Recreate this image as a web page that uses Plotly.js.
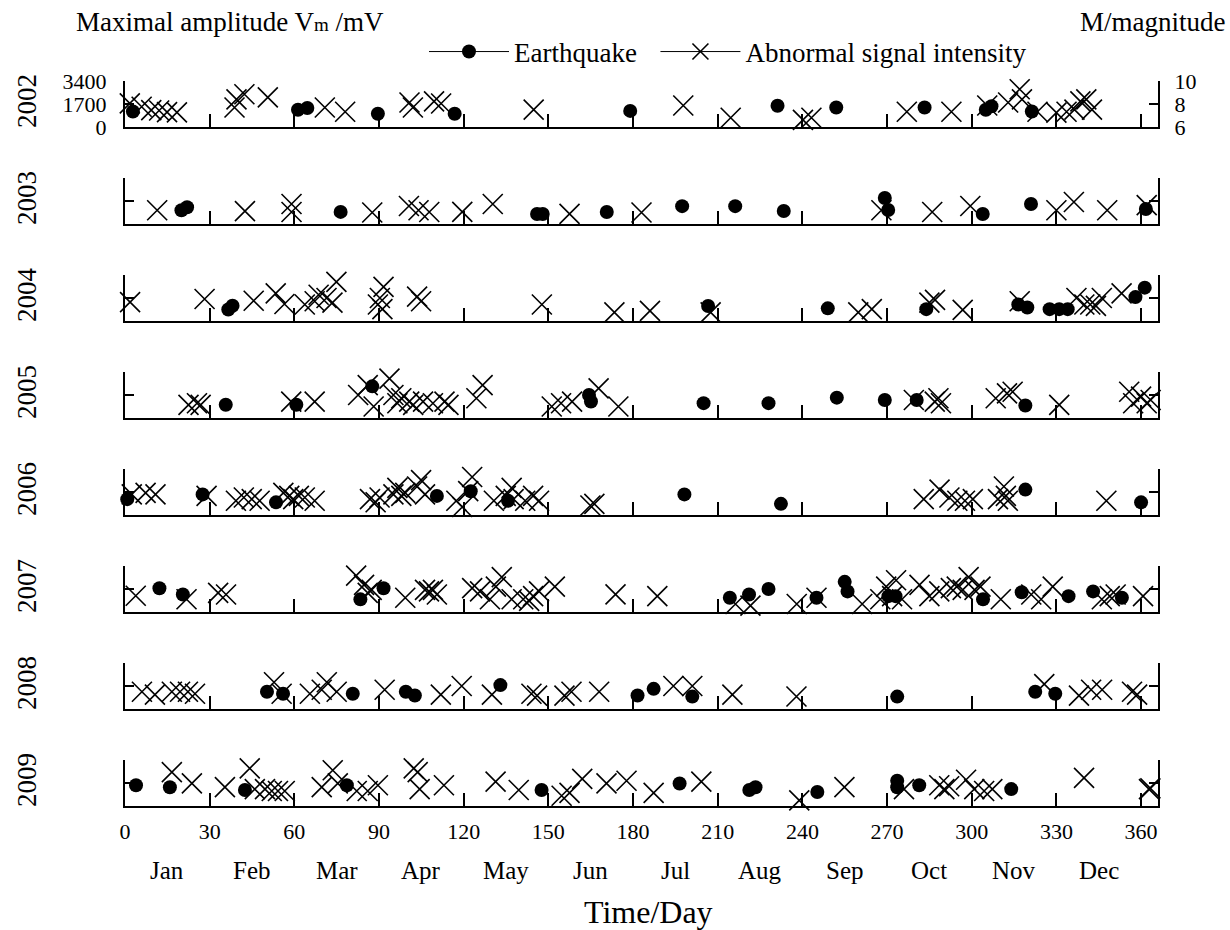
<!DOCTYPE html>
<html>
<head>
<meta charset="utf-8">
<script src="https://cdn.plot.ly/plotly-3.0.1.min.js"></script>
<style>html,body{margin:0;padding:0;background:#fff;}#chart{width:1230px;height:930px;}</style>
</head>
<body>
<div id="chart"></div>
<script>
// ---------------- DATA ----------------
const years = [2002, 2003, 2004, 2005, 2006, 2007, 2008, 2009];
const dayTicks = [0, 30, 60, 90, 120, 150, 180, 210, 240, 270, 300, 330, 360];
const monthNames = ['Jan','Feb','Mar','Apr','May','Jun','Jul','Aug','Sep','Oct','Nov','Dec'];
const monthCenters = [15, 45, 75, 105, 135, 165, 195, 225, 255, 285, 315, 345];
const ampTicks = [0, 1700, 3400];
const magTicks = [6, 8, 10];

// Earthquakes: day of year and magnitude (right axis)
const quakeDay2002 = [2.8, 61.3, 64.6, 89.6, 116.8, 179, 231.2, 252, 283.3, 305, 307, 321.3];
const quakeMag2002 = [7.35, 7.5, 7.65, 7.15, 7.15, 7.4, 7.85, 7.7, 7.7, 7.5, 7.8, 7.35];
const quakeDay2003 = [20, 22, 76.4, 146, 148, 170.7, 197.4, 216.2, 233.4, 269.2, 270.4, 303.9, 321, 361.7];
const quakeMag2003 = [7.2, 7.45, 7.05, 6.87, 6.87, 7.04, 7.55, 7.55, 7.13, 8.26, 7.22, 6.87, 7.74, 7.3];
const quakeDay2004 = [36.6, 38.1, 206.6, 249, 283.9, 316.5, 319.7, 327.6, 331, 334, 358, 361.3];
const quakeMag2004 = [7.0, 7.33, 7.3, 7.1, 7.03, 7.44, 7.17, 7.03, 7.03, 7.03, 8.08, 8.9];
const quakeDay2005 = [35.7, 60.7, 87.6, 164.4, 165.1, 205, 228, 252.2, 269.2, 280.5, 319];
const quakeMag2005 = [7.15, 7.15, 8.75, 8.0, 7.43, 7.29, 7.29, 7.77, 7.57, 7.57, 7.09];
const quakeDay2006 = [0.8, 27.5, 53.5, 110.5, 122.5, 135.7, 198.2, 232.4, 319, 360];
const quakeMag2006 = [7.38, 7.79, 7.1, 7.66, 8.07, 7.24, 7.79, 6.97, 8.21, 7.1];
const quakeDay2007 = [12.2, 20.5, 83.4, 91.6, 214.3, 221.1, 228, 245, 255, 256, 270.5, 273, 304, 317.7, 334.3, 343, 353.2];
const quakeMag2007 = [8.07, 7.52, 7.1, 8.07, 7.24, 7.52, 8.0, 7.24, 8.62, 7.79, 7.38, 7.38, 7.1, 7.72, 7.38, 7.79, 7.24];
const quakeDay2008 = [50.3, 56, 80.7, 99.5, 102.7, 133, 181.6, 187.3, 201, 273.6, 322.5, 329.6];
const quakeMag2008 = [7.5, 7.33, 7.33, 7.5, 7.17, 8.08, 7.17, 7.75, 7.08, 7.08, 7.5, 7.33];
const quakeDay2009 = [3.9, 15.9, 42.5, 78.6, 147.6, 196.5, 221.2, 223.4, 245.3, 273.6, 273.6, 281.4, 314];
const quakeMag2009 = [7.8, 7.63, 7.39, 7.8, 7.39, 7.96, 7.39, 7.63, 7.22, 8.2, 7.63, 7.8, 7.47];

// Abnormal signals: day of year and maximal amplitude Vm in mV (left axis)
const signalDay2002 = [1.7, 5.9, 9.3, 12.1, 14.9, 18.4, 38.8, 39.5, 42.3, 50.6, 70.8, 78, 100.8, 102, 109.5, 112, 144.8, 197.8, 214.6, 240.2, 243.2, 277, 292.8, 305.5, 312.9, 317, 317.8, 323.3, 330, 333.6, 336.4, 338.5, 340.6, 342.6];
const signalAmp2002 = [1750, 1500, 1250, 1220, 1100, 1080, 1440, 2040, 2420, 2190, 1440, 1130, 1810, 1440, 1890, 1740, 1280, 1590, 680, 530, 680, 1130, 1130, 1590, 1810, 2790, 2040, 1130, 1060, 1130, 1280, 1890, 2040, 1280];
const signalDay2003 = [11.4, 42.5, 59, 59, 87.6, 100.6, 104, 107.8, 119.5, 130.3, 157.5, 183, 268, 286, 299.5, 330, 336.2, 348, 362];
const signalAmp2003 = [1020, 950, 1480, 890, 850, 1330, 1020, 890, 900, 1480, 750, 850, 1020, 890, 1330, 1020, 1630, 1020, 1400];
const signalDay2004 = [1.8, 28.2, 45.6, 53.4, 56.5, 63.7, 67.2, 68.6, 71.4, 73.5, 74.9, 89.6, 90.3, 91.6, 91.2, 103.5, 104.9, 147.7, 173.4, 186, 207.5, 259.8, 264.6, 285, 287, 296.8, 317, 337.1, 339.9, 342, 344, 346.1, 353.1];
const signalAmp2004 = [1400, 1630, 1500, 2040, 1260, 1220, 1460, 1940, 1700, 1360, 2890, 1220, 1700, 2520, 880, 1800, 1460, 1220, 640, 750, 640, 640, 880, 1360, 1560, 820, 1460, 1700, 1220, 1220, 1120, 1700, 2040];
const signalDay2005 = [22.5, 25.5, 26.8, 58.9, 67.2, 82.6, 86, 88.1, 93.7, 95.1, 96.5, 97.9, 100.7, 102.1, 105.6, 109.1, 113.2, 114.6, 124.5, 126.7, 151.2, 154.5, 158.4, 167.8, 174.8, 279.5, 286.9, 288.2, 289.1, 308.5, 312.5, 314.5, 331, 355.8, 357.2, 360, 362, 363.4];
const signalAmp2005 = [970, 1090, 970, 1210, 1210, 1700, 2430, 850, 2910, 1700, 1090, 1460, 1210, 970, 1210, 1090, 1210, 970, 1460, 2430, 850, 1090, 1210, 2190, 850, 1330, 1210, 1460, 1090, 1460, 1820, 1940, 970, 1940, 1090, 1580, 1090, 1330];
const signalDay2006 = [2.4, 7.3, 10.8, 28.9, 39.3, 42.1, 44.9, 47.7, 56.1, 58.2, 59.6, 61.6, 63.7, 67.2, 86.8, 88.8, 90.2, 95.1, 96.5, 97.9, 99.3, 103.5, 104.9, 106.3, 117.4, 119.5, 121.6, 123, 130.7, 134.9, 137, 137.7, 141.8, 144.6, 146.7, 164.9, 166.3, 283, 288.6, 292.1, 294.9, 297.6, 300.4, 309.3, 311.4, 312.1, 312.8, 347.7];
const signalAmp2006 = [1520, 1640, 1520, 1410, 1050, 1290, 1170, 1050, 1640, 1410, 1170, 1410, 1290, 1050, 1170, 940, 1290, 1520, 2000, 1410, 1640, 2110, 2580, 1520, 1050, 590, 1760, 2810, 1050, 1410, 2000, 1170, 1050, 1410, 1050, 700, 820, 1170, 1880, 1290, 1050, 1050, 1170, 1170, 2110, 1410, 1050, 1050];
const signalDay2007 = [3.8, 21.8, 33, 35.8, 81.9, 84.7, 86, 87.4, 99.3, 106.3, 107.7, 109.1, 110.5, 123, 125.8, 129.3, 131.4, 133.5, 137, 141.1, 143.2, 144.6, 146.7, 152.3, 173.8, 188.6, 216.3, 221.6, 238, 245, 261.2, 267.6, 269.7, 271.8, 273.2, 275.3, 281.5, 285, 288.5, 292.6, 294.7, 296.8, 298.9, 301, 303.1, 310.3, 321.1, 324.6, 328.7, 346.1, 348.9, 351, 360.7];
const signalAmp2007 = [1200, 940, 1410, 1290, 2690, 2000, 1410, 1640, 1050, 1640, 1520, 1640, 1290, 1760, 1520, 940, 1880, 2580, 940, 940, 820, 1170, 1520, 1880, 1300, 1170, 590, 470, 590, 1050, 590, 940, 1880, 1170, 2350, 940, 2000, 1170, 1520, 1760, 1880, 1640, 2580, 1640, 1880, 940, 1290, 940, 1880, 940, 1170, 1290, 1170];
const signalDay2008 = [6, 10.6, 16.6, 19.5, 22.3, 24.8, 52.8, 55.5, 65.5, 69.7, 71.5, 75, 92, 111.9, 119.3, 130, 144, 146, 155.7, 158.2, 168, 194.3, 201, 215.2, 237.9, 325.7, 338, 342.3, 346.2, 356.8, 358.6];
const signalAmp2008 = [1275, 1060, 1275, 1275, 1275, 1130, 1980, 1130, 1130, 1420, 1980, 1275, 1420, 1060, 1700, 1060, 1130, 990, 990, 1275, 1275, 1700, 1700, 1060, 920, 1840, 990, 1420, 1420, 1275, 1060];
const signalDay2009 = [16.6, 23.7, 35.4, 44.2, 46, 49.6, 52, 54.2, 56.6, 69.7, 73.6, 75.4, 82.1, 86, 89.6, 102.3, 103.7, 104.4, 113, 131.3, 139.5, 154.7, 157.5, 162, 170.6, 177.7, 187.3, 204.2, 238.9, 254.9, 276, 288.5, 290.3, 292, 298, 300.9, 304.4, 307.3, 339.8, 362.8, 363.3];
const signalAmp2009 = [2500, 1670, 1390, 2780, 1250, 1250, 1110, 1110, 1110, 1390, 2640, 1670, 1110, 1110, 1530, 2780, 2500, 1250, 1530, 1800, 1180, 760, 970, 2010, 1670, 1870, 970, 1800, 420, 1390, 1250, 1530, 1250, 1460, 1940, 1250, 1110, 1250, 2080, 1250, 1300];

const quakeDays = [quakeDay2002, quakeDay2003, quakeDay2004, quakeDay2005, quakeDay2006, quakeDay2007, quakeDay2008, quakeDay2009];
const quakeMags = [quakeMag2002, quakeMag2003, quakeMag2004, quakeMag2005, quakeMag2006, quakeMag2007, quakeMag2008, quakeMag2009];
const signalDays = [signalDay2002, signalDay2003, signalDay2004, signalDay2005, signalDay2006, signalDay2007, signalDay2008, signalDay2009];
const signalAmps = [signalAmp2002, signalAmp2003, signalAmp2004, signalAmp2005, signalAmp2006, signalAmp2007, signalAmp2008, signalAmp2009];

// ---------------- LAYOUT / STYLE ----------------
const FONT = 'Liberation Serif, "Times New Roman", serif';
const W = 1230, H = 930, ML = 125, MR = 72;
const PW = W - ML - MR;
const PANEL_BASE0 = 127, PANEL_STEP = 97, PANEL_H = 46;

const dotMarker = {symbol: 'circle', size: 14, color: 'black', line: {width: 0}};
const crossMarker = {symbol: 'x-thin-open', size: 20, color: 'black', line: {width: 1.6, color: 'black'}};

const traces = [];
const layout = {
  width: W, height: H,
  margin: {l: ML, r: MR, t: 0, b: 0, pad: 0},
  paper_bgcolor: 'white', plot_bgcolor: 'white',
  font: {family: FONT, color: 'black', size: 22},
  showlegend: true,
  legend: {orientation: 'h', x: (424 - ML) / PW, xanchor: 'left', y: 1 - 52 / H, yanchor: 'middle',
           font: {family: FONT, size: 27, color: 'black'}, bgcolor: 'rgba(0,0,0,0)',
           itemwidth: 80, traceorder: 'normal'},
  annotations: [],
  hovermode: false
};

years.forEach((yr, i) => {
  const xId = i === 0 ? 'x' : 'x' + (i + 1);
  const yL = i === 0 ? 'y' : 'y' + (i + 1);
  const yR = 'y' + (i + 9);
  const xKey = i === 0 ? 'xaxis' : 'xaxis' + (i + 1);
  const yLKey = i === 0 ? 'yaxis' : 'yaxis' + (i + 1);
  const yRKey = 'yaxis' + (i + 9);
  const base = PANEL_BASE0 + PANEL_STEP * i;
  const top = base - PANEL_H;

  layout[xKey] = {
    domain: [0, 1], range: [0, 366], anchor: yL,
    showline: true, linewidth: 2, linecolor: 'black',
    ticks: 'inside', tickvals: dayTicks, ticklen: 13, tickwidth: 2, tickcolor: 'black',
    showticklabels: i === years.length - 1, ticklabelstandoff: 5,
    tickfont: {family: FONT, size: 22, color: 'black'},
    showgrid: false, zeroline: false, fixedrange: true
  };
  layout[yLKey] = {
    domain: [1 - base / H, 1 - top / H], range: [0, 3400], anchor: xId, side: 'left',
    showline: true, linewidth: 2, linecolor: 'black',
    ticks: 'inside', tickvals: ampTicks, ticklen: 9, tickwidth: 2, tickcolor: 'black',
    showticklabels: i === 0, ticklabelstandoff: 12,
    tickfont: {family: FONT, size: 22, color: 'black'},
    showgrid: false, zeroline: false, fixedrange: true
  };
  layout[yRKey] = {
    overlaying: yL, range: [6, 10], anchor: xId, side: 'right',
    showline: true, linewidth: 2, linecolor: 'black',
    ticks: 'inside', tickvals: magTicks, ticklen: 9, tickwidth: 2, tickcolor: 'black',
    showticklabels: i === 0, ticklabelstandoff: 10,
    tickfont: {family: FONT, size: 22, color: 'black'},
    showgrid: false, zeroline: false, fixedrange: true
  };

  traces.push({
    type: 'scatter', mode: 'markers', x: signalDays[i], y: signalAmps[i],
    xaxis: xId, yaxis: yL, marker: crossMarker, cliponaxis: false, showlegend: false,
    name: 'Abnormal signal intensity ' + yr
  });
  traces.push({
    type: 'scatter', mode: 'markers', x: quakeDays[i], y: quakeMags[i],
    xaxis: xId, yaxis: yR, marker: dotMarker, cliponaxis: false, showlegend: false,
    name: 'Earthquake ' + yr
  });

  layout.annotations.push({
    text: String(yr), xref: 'paper', yref: 'paper',
    x: (27 - ML) / PW, y: 1 - (base - PANEL_H / 2 - 3) / H,
    xanchor: 'center', yanchor: 'middle', textangle: -90, showarrow: false,
    font: {family: FONT, size: 27, color: 'black'}
  });
});

// legend-only entries
traces.push({type: 'scatter', mode: 'lines+markers', x: [null], y: [null], name: 'Earthquake\u00a0\u00a0',
  marker: dotMarker, line: {color: 'black', width: 1}, showlegend: true, xaxis: 'x', yaxis: 'y9'});
traces.push({type: 'scatter', mode: 'lines+markers', x: [null], y: [null], name: 'Abnormal signal intensity',
  marker: crossMarker, line: {color: 'black', width: 1}, showlegend: true, xaxis: 'x', yaxis: 'y'});

// month labels under the bottom axis
monthNames.forEach((m, k) => {
  layout.annotations.push({
    text: m, xref: 'x8', yref: 'paper', x: monthCenters[k], y: 1 - 870 / H,
    xanchor: 'center', yanchor: 'middle', showarrow: false,
    font: {family: FONT, size: 25, color: 'black'}
  });
});

// axis titles
layout.annotations.push({
  text: 'Time/Day', xref: 'paper', yref: 'paper', x: (648 - ML) / PW, y: 1 - 912 / H,
  xanchor: 'center', yanchor: 'middle', showarrow: false,
  font: {family: FONT, size: 32, color: 'black'}
});
layout.annotations.push({
  text: 'Maximal amplitude V<span style="font-size:19px">m</span> /mV', xref: 'paper', yref: 'paper',
  x: (74 - ML) / PW, y: 1 - 22 / H,
  xanchor: 'left', yanchor: 'middle', showarrow: false,
  font: {family: FONT, size: 27, color: 'black'}
});
layout.annotations.push({
  text: 'M/magnitude', xref: 'paper', yref: 'paper',
  x: (1227 - ML) / PW, y: 1 - 22 / H,
  xanchor: 'right', yanchor: 'middle', showarrow: false,
  font: {family: FONT, size: 27, color: 'black'}
});

Plotly.newPlot('chart', traces, layout, {displayModeBar: false, staticPlot: true});
</script>
</body>
</html>
